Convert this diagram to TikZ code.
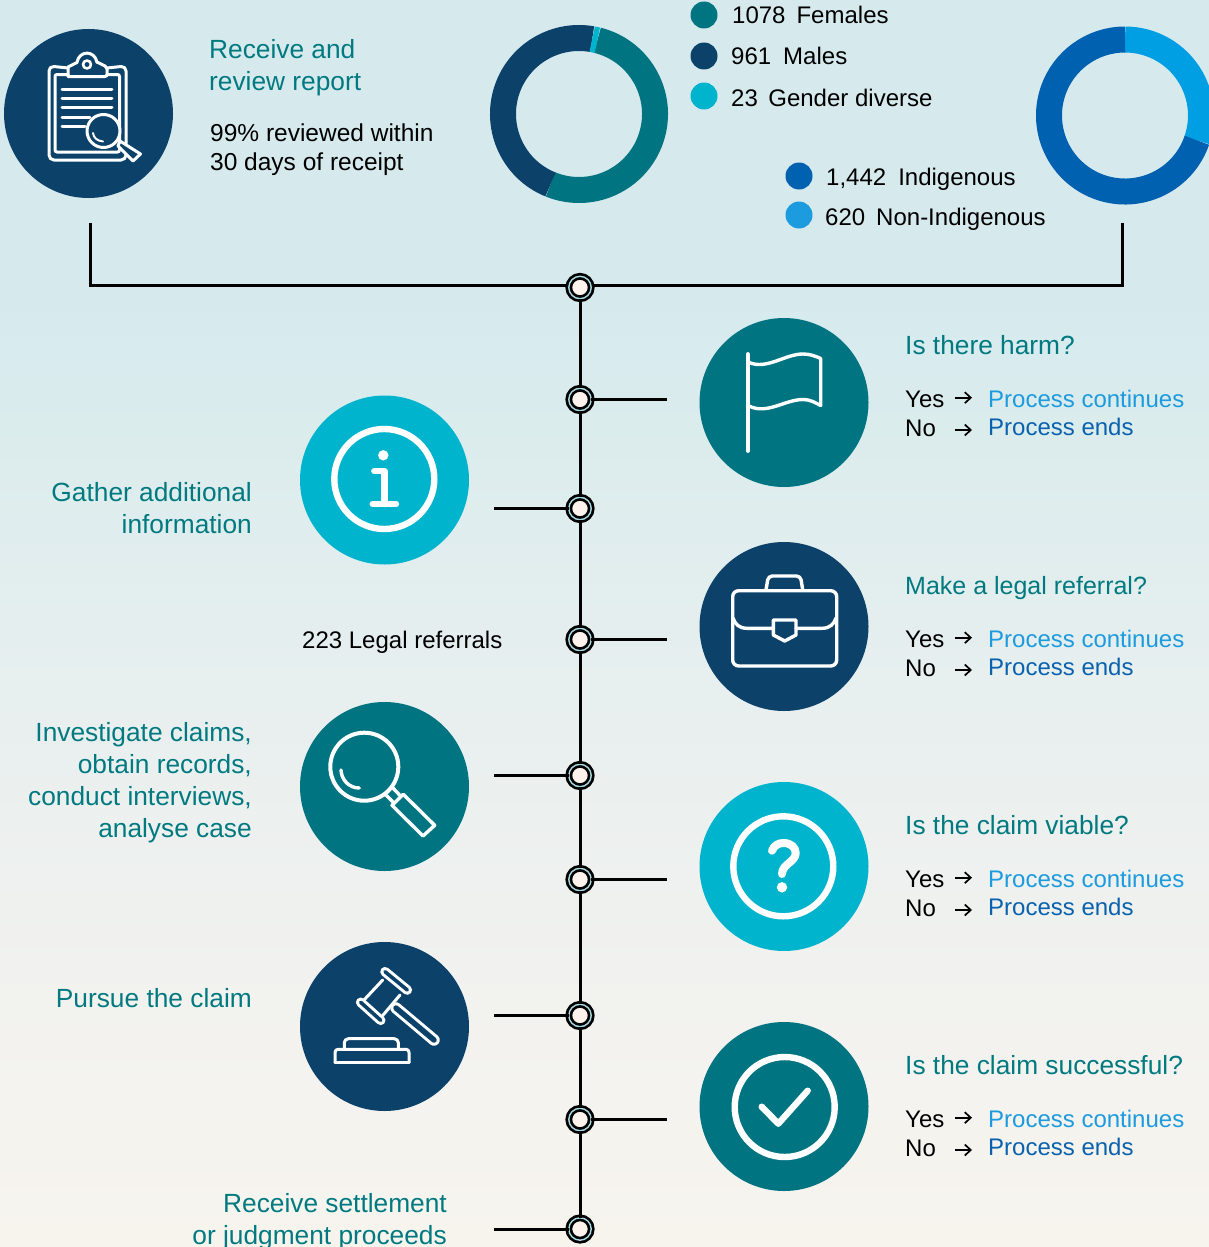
\documentclass[tikz,border=0pt]{standalone}
\usepackage{fontspec}
\usetikzlibrary{arrows.meta}
\setmainfont{Liberation Sans}
\definecolor{cteal}{HTML}{007481}
\definecolor{cnavy}{HTML}{0C426A}
\definecolor{ccyan}{HTML}{00B4CD}
\definecolor{cdblue}{HTML}{0061B0}
\definecolor{clblue}{HTML}{009FE3}
\definecolor{ctext}{HTML}{007A80}
\definecolor{cproc}{HTML}{1C9BDE}
\definecolor{cend}{HTML}{0A62AE}
\definecolor{cgap}{HTML}{A8DCE6}
\definecolor{ccream}{HTML}{FDF3EC}
\definecolor{bga}{RGB}{247,244,238}
\definecolor{bgb}{RGB}{242,242,239}
\definecolor{bgc}{RGB}{232,239,239}
\definecolor{bgd}{RGB}{220,236,237}
\definecolor{bge}{RGB}{214,234,238}
\pgfdeclareverticalshading{bgshade}{100bp}{
 color(0bp)=(bga);
 color(25bp)=(bga);
 color(35bp)=(bgb);
 color(47bp)=(bgc);
 color(57bp)=(bgd);
 color(63bp)=(bge);
 color(100bp)=(bge)}
\tikzset{
 x=1pt,y=-1pt,
 bigc/.style={circle,minimum size=169pt,inner sep=0pt,outer sep=0pt},
 dot/.style={circle,minimum size=27pt,inner sep=0pt,outer sep=0pt},
 junc/.style={circle,minimum size=22.4pt,inner sep=0pt,outer sep=0pt,draw=black,line width=2.7pt,double=cgap,double distance=1.4pt,fill=ccream},
 conn/.style={draw=black,line width=3pt,line join=miter},
 icon/.style={draw=white,line width=3.4pt,line cap=round,line join=round},
 head/.style={font=\fontsize{26.3}{32}\selectfont,text=ctext,inner sep=0pt},
 body/.style={font=\fontsize{24.5}{29}\selectfont,text=black,inner sep=0pt},
 small/.style={font=\fontsize{24}{29}\selectfont,text=black,inner sep=0pt},
 yesarrow/.style={draw=black,line width=1.7pt,-{Straight Barb[length=6pt,width=11pt]}},
 ring/.style={line width=26pt},
}
\newcommand{\qblock}[3]{%
 \node[head,anchor=base west,#3] (#1t) at (905,#2+9) {\csname qtext#1\endcsname};
 \node[small,anchor=base west] (#1y) at (905,#2+62) {Yes};
 \node[small,anchor=base west] (#1n) at (905,#2+91) {No};
 \coordinate (#1ya) at (955,#2+52.7);
 \coordinate (#1yb) at (972,#2+52.7);
 \coordinate (#1na) at (955,#2+85);
 \coordinate (#1nb) at (972,#2+85);
 \draw[yesarrow] (#1ya) -- (#1yb);
 \draw[yesarrow] (#1na) -- (#1nb);
 \node[small,anchor=base west,text=cproc] (#1c) at (988,#2+62) {Process continues};
 \node[small,anchor=base west,text=cend] (#1e) at (988,#2+90.5) {Process ends};
}
\newcommand{\qtexta}{Is there harm?}
\newcommand{\qtextb}{Make a legal referral?}
\newcommand{\qtextc}{Is the claim viable?}
\newcommand{\qtextd}{Is the claim successful?}
\begin{document}
\begin{tikzpicture}
\useasboundingbox (0,0) rectangle (1209,1247);
\clip (0,0) rectangle (1209,1247);
\shade[shading=bgshade] (0,0) rectangle (1209,1247);

% donuts
\begin{scope}[shift={(579,114)}]
 \draw[ring,cteal] (76:76pt) arc[start angle=76,end angle=-112,radius=76pt];
 \draw[ring,cnavy] (-112:76pt) arc[start angle=-112,end angle=-280,radius=76pt];
 \draw[ring,ccyan] (80:76pt) arc[start angle=80,end angle=76,radius=76pt];
\end{scope}
\begin{scope}[shift={(1125,115.5)}]
 \draw[ring,clblue] (90:76pt) arc[start angle=90,end angle=-19,radius=76pt];
 \draw[ring,cdblue] (-19:76pt) arc[start angle=-19,end angle=-270,radius=76pt];
\end{scope}

% legend
\node[dot,fill=cteal] (d1) at (704,15) {};
\node[dot,fill=cnavy] (d2) at (704,56) {};
\node[dot,fill=ccyan] (d3) at (704,96) {};
\node[dot,fill=cdblue] (d4) at (799,176) {};
\node[dot,fill=cproc] (d5) at (799,215) {};
\node[small,anchor=base west] (l1) at (732,24) {1078\hspace{11pt}Females};
\node[small,anchor=base west] (l2) at (731,65) {961\hspace{12pt}Males};
\node[small,anchor=base west] (l3) at (731,106) {23\hspace{10.5pt}Gender diverse};
\node[small,anchor=base west] (l4) at (826,185) {1,442\hspace{12pt}Indigenous};
\node[small,anchor=base west] (l5) at (825,225) {620\hspace{11pt}Non-Indigenous};

% top text
\node[head,anchor=west,align=left] (t1) at (209,68) {Receive and\\review report};
\node[body,anchor=west,align=left] (t2) at (210,150) {99\% reviewed within\\30 days of receipt};

% top bracket
\coordinate (ctl) at (90,223);
\coordinate (cbl) at (90,285);
\coordinate (cbr) at (1122,285);
\coordinate (ctr) at (1122,223);
\draw[conn] (ctl) -- (cbl) -- (cbr) -- (ctr);

% junctions
\node[junc] (j1) at (580,287.5) {};
\node[junc] (j2) at (580,399.5) {};
\node[junc] (j3) at (580,508.5) {};
\node[junc] (j4) at (580,639.5) {};
\node[junc] (j5) at (580,775.5) {};
\node[junc] (j6) at (580,879.5) {};
\node[junc] (j7) at (580,1015.5) {};
\node[junc] (j8) at (580,1119.5) {};
\node[junc] (j9) at (580,1229) {};
\draw[conn] (j1) -- (j2);
\draw[conn] (j2) -- (j3);
\draw[conn] (j3) -- (j4);
\draw[conn] (j4) -- (j5);
\draw[conn] (j5) -- (j6);
\draw[conn] (j6) -- (j7);
\draw[conn] (j7) -- (j8);
\draw[conn] (j8) -- (j9);
\coordinate (s2) at (667,399.5);
\coordinate (s3) at (494,508.5);
\coordinate (s4) at (667,639.5);
\coordinate (s5) at (494,775.5);
\coordinate (s6) at (667,879.5);
\coordinate (s7) at (494,1015.5);
\coordinate (s8) at (667,1119.5);
\coordinate (s9) at (494,1229);
\draw[conn] (j2) -- (s2);
\draw[conn] (j3) -- (s3);
\draw[conn] (j4) -- (s4);
\draw[conn] (j5) -- (s5);
\draw[conn] (j6) -- (s6);
\draw[conn] (j7) -- (s7);
\draw[conn] (j8) -- (s8);
\draw[conn] (j9) -- (s9);

% big circles
\node[bigc,fill=cnavy] (report) at (88.5,113.5) {};
\node[bigc,fill=cteal] (flag) at (784,402.5) {};
\node[bigc,fill=ccyan] (info) at (384.5,480) {};
\node[bigc,fill=cnavy] (case) at (784,626.5) {};
\node[bigc,fill=cteal] (search) at (384.5,786.5) {};
\node[bigc,fill=ccyan] (ques) at (784,866.5) {};
\node[bigc,fill=cnavy] (gavel) at (384.5,1026.5) {};
\node[bigc,fill=cteal] (check) at (784,1106.5) {};

% clipboard icon
\draw[icon,line width=3pt,rounded corners=5pt] (68,68) -- (49,66) -- (49,160) -- (126,160) -- (126,66) -- (107,68);
\draw[icon,line width=3pt,rounded corners=2pt] (68,74.5) -- (55,74.5) -- (55,152) -- (119.5,152) -- (119.5,74.5) -- (107,74.5);
\draw[icon,line width=3pt,rounded corners=2pt] (68,76.5) -- (107,76.5) -- (107,67) -- (97,62);
\draw[icon,line width=3pt] (68,76.5) -- (68,67) -- (77,62.5) .. controls (79,50) and (95,50) .. (97,62.5);
\draw[icon,line width=2.6pt] (87,64.5) circle (4);
\foreach \yy/\xe in {89.3/112,98.7/112,107.7/112,117/90,126/85}
 \draw[icon,line width=3pt] (62,\yy) -- (\xe,\yy);
\draw[icon,line width=3pt,fill=cnavy] (103.5,131) circle (16.5);
\draw[icon,line width=2pt] (93,133) .. controls (93.5,137.5) and (97,141) .. (103,141.5);
\draw[icon,line width=3pt,fill=cnavy] (120,141) -- (140.5,154) -- (133,161) -- (118,146) -- cycle;

% flag icon
\draw[icon,line width=4.4pt] (747.7,354.3) -- (747.7,450.7);
\draw[icon,line width=3.4pt] (749,362.5) .. controls (767,370) and (785,354) .. (803,354) .. controls (810,354) and (815,356) .. (820.7,358.5) -- (820.7,405.5) .. controls (815,402.5) and (810,399.5) .. (803,399.5) .. controls (785,399.5) and (767,415) .. (749,406);

% info icon
\draw[icon,line width=6.4pt] (384.3,479) circle (50);
\fill[white] (383.3,455.3) circle (5.2);
\draw[icon,line width=6.4pt] (374.3,471) -- (384.3,471) -- (384.3,504);
\draw[icon,line width=6.4pt] (372.7,504) -- (396,504);

% briefcase icon
\draw[icon,rounded corners=6pt] (732.7,590.7) rectangle (836.7,666);
\draw[icon,rounded corners=4pt] (766,590) -- (768.3,576) -- (800.5,576) -- (802.7,590);
\draw[icon] (733,618) .. controls (735,624) and (739,628.3) .. (747,628.3) -- (773.3,628.3);
\draw[icon] (796,628.3) -- (822,628.3) .. controls (830,628.3) and (834,624) .. (836,618);
\draw[icon] (773.3,620) -- (796,620) -- (796,635) -- (784.7,641) -- (773.3,635) -- cycle;

% search icon
\draw[icon,line width=4pt] (364.3,766.7) circle (34);
\draw[icon,line width=3.4pt] (341,770) .. controls (341.5,780) and (349,788) .. (359.3,788);
\draw[icon] (403.3,794.3) -- (434.7,825.3) -- (423,836) -- (392,805.3) -- cycle;
\draw[icon] (392,787) -- (401,796.5);
\draw[icon] (385,794) -- (394,803);

% question icon
\draw[icon,line width=6.4pt] (783.3,866.3) circle (50);
\draw[icon,line width=8pt] (772,850.7) .. controls (774,845) and (779,843) .. (783.5,843) .. controls (791,843) and (795.7,847.5) .. (795.7,853) .. controls (795.7,862) and (782,864) .. (782,874);
\fill[white] (782,887.3) circle (5.2);

% gavel icon
\draw[draw=white,line width=3pt,double=cnavy,double distance=5.5pt,line cap=round] (396,1008) -- (434,1040);
\fill[cnavy] (382.7,980) -- (400,995) -- (385,1016) -- (364,1000) -- cycle;
\draw[icon,line width=3pt] (382.7,980) -- (364,1000);
\draw[icon,line width=3pt] (400,995) -- (381.7,1016.7);
\draw[draw=white,line width=3pt,double=cnavy,double distance=3.6pt,line cap=round] (385,971.7) -- (407.3,990);
\draw[draw=white,line width=3pt,double=cnavy,double distance=3.6pt,line cap=round] (360.7,1002.3) -- (380.7,1020.3);
\draw[icon,line width=3pt,rounded corners=4pt] (344.3,1048.3) -- (344.3,1038.7) -- (398.3,1038.7) -- (398.3,1048.3);
\draw[icon,line width=3pt,rounded corners=3pt] (335,1062.7) -- (335,1049.3) -- (409,1049.3) -- (409,1062.7);
\draw[icon,line width=3pt] (335,1062.7) -- (409,1062.7);

% check icon
\draw[icon,line width=6.4pt] (784.7,1107) circle (50);
\draw[icon,line width=6.4pt] (761.7,1106.7) -- (778.3,1123.7) -- (807.7,1090.7);

% left labels
\node[head,anchor=east,align=right] (g1) at (252,508) {Gather additional\\information};
\node[body,font=\fontsize{24}{29}\selectfont,anchor=base west] (g2) at (302,648) {223 Legal referrals};
\node[head,anchor=east,align=right] (g3) at (252,783) {Investigate claims,\\obtain records,\\conduct interviews,\\analyse case};
\node[head,anchor=base east] (g4) at (252,1007) {Pursue the claim};
\node[head,anchor=east,align=right] (g5) at (447,1222) {Receive settlement\\or judgment proceeds};

% question blocks
\qblock{a}{345}{}
\qblock{b}{585}{font=\fontsize{25}{30}\selectfont}
\qblock{c}{825}{}
\qblock{d}{1065}{}
\end{tikzpicture}
\end{document}
